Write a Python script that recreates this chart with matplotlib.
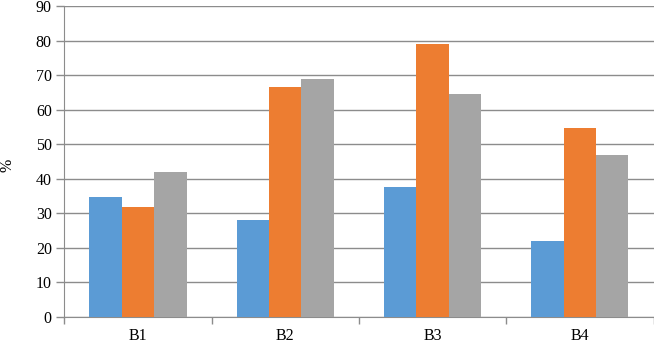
import matplotlib

matplotlib.use("Agg")
import matplotlib.pyplot as plt
import numpy as np

# === Data ===
categories = ["B1", "B2", "B3", "B4"]
blue_vals = [34.7, 28.0, 37.5, 22.0]
orange_vals = [31.8, 66.5, 79.0, 54.7]
gray_vals = [42.0, 68.9, 64.5, 46.8]
y_ticks = list(range(0, 91, 10))

colors = ["#5B9BD5", "#ED7D31", "#A5A5A5"]

plt.rcParams["font.family"] = ["Liberation Serif", "DejaVu Serif"]
FS = 11.5

fig = plt.figure(figsize=(6.54, 3.43), dpi=100)
ax = fig.add_axes([64.3 / 654, 1 - 316.7 / 343, (653.5 - 64.3) / 654, (316.7 - 6) / 343])

x = np.arange(len(categories))
w = 0.22
for i, vals in enumerate([blue_vals, orange_vals, gray_vals]):
    ax.bar(x + (i - 1) * w, vals, width=w, color=colors[i], zorder=3)

ax.set_xlim(-0.5, len(categories) - 0.5)
ax.set_ylim(0, 90)
ax.set_yticks(y_ticks)
ax.set_yticklabels([str(t) for t in y_ticks], fontsize=FS)
ax.yaxis.grid(True, color="#8c8c8c", linewidth=1.0, zorder=0)
ax.tick_params(axis="y", length=6, color="#8c8c8c", width=1.0, pad=3)

# category labels centred, tick marks at category boundaries
boundaries = np.arange(-0.5, len(categories))
ax.set_xticks(boundaries)
ax.set_xticklabels([""] * len(boundaries))
ax.set_xticks(x, minor=True)
ax.set_xticklabels(categories, minor=True, fontsize=FS)
ax.tick_params(axis="x", which="major", length=5, color="#8c8c8c", width=1.0)
ax.tick_params(axis="x", which="minor", length=0, pad=8)

for side in ["top", "right"]:
    ax.spines[side].set_visible(False)
ax.spines["left"].set_color("#8c8c8c")
ax.spines["bottom"].set_color("#8c8c8c")

fig.text(7 / 654, 1 - 165 / 343, "%", rotation=90, ha="center", va="center", fontsize=FS)

fig.savefig("out.png", dpi=100)
